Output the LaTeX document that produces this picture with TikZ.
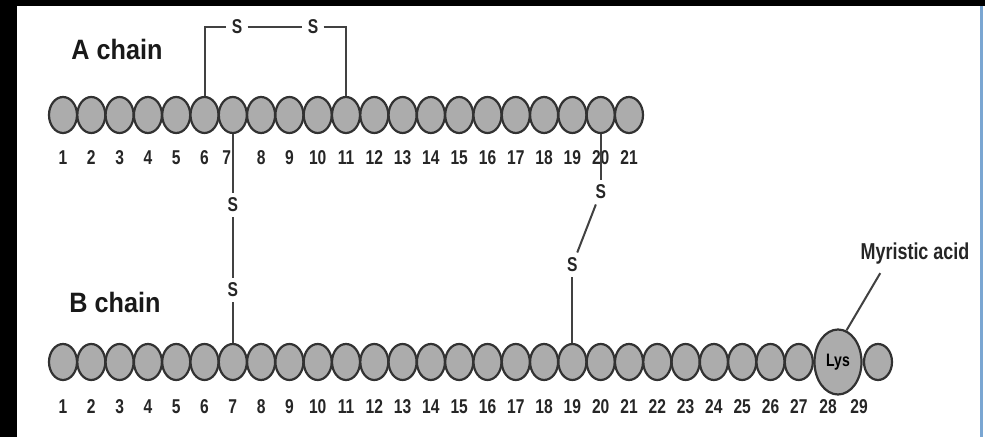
\documentclass[tikz,border=0pt]{standalone}
\usepackage{fontspec}
\setmainfont{Liberation Sans}
\newfontfamily\narrowfont[FakeStretch=0.78]{Liberation Sans}
\newfontfamily\titlefont[FakeStretch=0.9]{Liberation Sans}
\usepackage{tikz}
\usetikzlibrary{shapes.geometric}
\usepackage{xcolor}
\definecolor{resgray}{RGB}{172,172,172}
\definecolor{edgegray}{RGB}{50,50,50}
\definecolor{bondgray}{RGB}{65,65,65}
\definecolor{frameblue}{RGB}{122,166,210}

\begin{document}
\begin{tikzpicture}[x=0.5pt, y=-0.5pt,
        residue/.style={ellipse, draw=edgegray, fill=resgray, line width=1.1pt, minimum width=14pt, minimum height=18pt, inner sep=0pt},
        num/.style={font=\narrowfont\bfseries\fontsize{10}{11}\selectfont, text=black!85, inner sep=0pt},
        sulfur/.style={font=\narrowfont\bfseries\fontsize{10}{11}\selectfont, text=black!85, inner sep=2.5pt},
        chaintitle/.style={font=\titlefont\bfseries\fontsize{14}{16}\selectfont, text=black!90, inner sep=0pt},
        bond/.style={draw=bondgray, line width=1pt}]
        \useasboundingbox (0,0) rectangle (985,437);
        % Frame
        \fill[white] (0,0) rectangle (985,437);
        \fill[black] (0,0) rectangle (17,437);
        \fill[black] (0,0) rectangle (985,6);
        \draw[frameblue, line width=1.5pt] (981.5,6) -- (981.5,437);
        % A chain
        \node[chaintitle] (atitle) at (117,49) {A chain};
        \foreach \i in {1,...,21} {
            \node[residue] (a\i) at ({63+(\i-1)*28.3},115) {};
            \pgfmathsetmacro\lx{63+(\i-1)*28.3-6*(\i==7)}
            \node[num] (la\i) at (\lx,158) {\i};
        }
        % B chain
        \node[chaintitle] (btitle) at (115,302) {B chain};
        \foreach \i in {1,...,27} {
            \node[residue] (b\i) at ({63+(\i-1)*28.3},362) {};
            \node[num] (lb\i) at ({63+(\i-1)*28.3},407) {\i};
        }
        \node[residue, minimum width=23.5pt, minimum height=32.5pt, font=\narrowfont\bfseries\fontsize{9}{10}\selectfont] (b28) at (838,362) {Lys};
        \node[residue] (b29) at (878,362) {};
        \foreach \i/\x in {28/828, 29/859} {
            \node[num] (lb\i) at (\x,407) {\i};
        }
        % Intra-chain bridge A6--A11
        \node[sulfur] (s1) at (237,27) {S};
        \node[sulfur] (s2) at (313,27) {S};
        \draw[bond] (a6.north) |- (s1);
        \draw[bond] (s1) -- (s2);
        \draw[bond] (s2) -| (a11.north);
        % Inter-chain bridge A7--B7
        \node[sulfur] (s3) at (a7 |- 0,205) {S};
        \node[sulfur] (s4) at (b7 |- 0,290) {S};
        \draw[bond] (a7.south) -- (s3);
        \draw[bond] (s3) -- (s4);
        \draw[bond] (s4) -- (b7.north);
        % Inter-chain bridge A20--B19
        \node[sulfur] (s5) at (a20 |- 0,192) {S};
        \node[sulfur] (s6) at (b19 |- 0,265) {S};
        \draw[bond] (a20.south) -- (s5);
        \draw[bond] (s5) -- (s6);
        \draw[bond] (s6) -- (b19.north);
        % Fatty acid on Lys28
        \node[font=\narrowfont\bfseries\fontsize{11.5}{13}\selectfont, text=black!85, inner sep=0pt] (myr) at (915,254) {Myristic acid};
        \draw[bond] ([xshift=10pt, yshift=-4pt]myr.south west) -- (b28.75);
\end{tikzpicture}
\end{document}
